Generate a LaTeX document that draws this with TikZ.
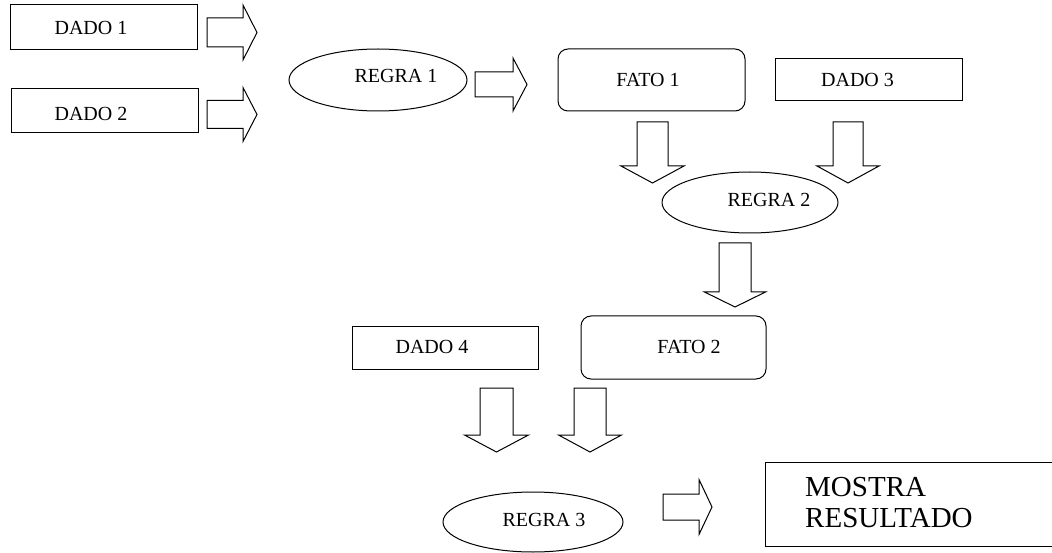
\documentclass[tikz,border=0pt]{standalone}
\usepackage{fontspec}
\setmainfont{Liberation Serif}
\usetikzlibrary{shapes.geometric}

\tikzset{
  outline/.style={draw=black, line width=1pt},
  databox/.style={outline, rectangle, inner sep=0pt},
  factbox/.style={outline, rectangle, rounded corners=10pt, inner sep=0pt},
  rulebox/.style={outline, ellipse, inner sep=0pt},
  lbl/.style={inner sep=0pt, font=\fontsize{20}{24}\selectfont},
  biglbl/.style={inner sep=0pt, align=left, font=\fontsize{29}{31}\selectfont},
  blockarrow/.style={outline, line join=miter, fill=white},
}

% hollow block arrow pointing right:
% name, tail x, axis y, body length, body half-height, head length, head half-height
\newcommand\RightBlock[7]{%
  \draw[blockarrow] ({#2},{#3-#5}) -- ({#2+#4},{#3-#5}) -- ({#2+#4},{#3-#7})
    -- ({#2+#4+#6},{#3}) coordinate (#1) -- ({#2+#4},{#3+#7})
    -- ({#2+#4},{#3+#5}) -- ({#2},{#3+#5}) -- cycle;}

% hollow block arrow pointing down:
% name, axis x, tail y, body length, body half-width, head length, head half-width
\newcommand\DownBlock[7]{%
  \draw[blockarrow] ({#2-#5},{#3}) -- ({#2+#5},{#3}) -- ({#2+#5},{#3+#4})
    -- ({#2+#7},{#3+#4}) -- ({#2},{#3+#4+#6}) coordinate (#1)
    -- ({#2-#7},{#3+#4}) -- ({#2-#5},{#3+#4}) -- cycle;}

\begin{document}
\begin{tikzpicture}[x=1pt, y=-1pt]
  \useasboundingbox (0,0) rectangle (1052,553);
  \clip (0,0) rectangle (1052,553);

  % data boxes
  \node[databox, minimum width=187pt, minimum height=45pt] (dado1) at (103.5,27.5) {};
  \node[databox, minimum width=187pt, minimum height=44pt] (dado2) at (104.5,111) {};
  \node[databox, minimum width=187pt, minimum height=42pt] (dado3) at (868.5,80) {};
  \node[databox, minimum width=186pt, minimum height=43pt] (dado4) at (445,347.5) {};

  % facts
  \node[factbox, minimum width=187pt, minimum height=62pt] (fato1) at (651.5,80) {};
  \node[factbox, minimum width=185pt, minimum height=63pt] (fato2) at (673.5,347.5) {};

  % rules
  \node[rulebox, minimum width=178pt, minimum height=62pt] (regra1) at (378,80) {};
  \node[rulebox, minimum width=176pt, minimum height=61pt] (regra2) at (750,202.5) {};
  \node[rulebox, minimum width=180pt, minimum height=60pt] (regra3) at (533,522) {};

  % result box (runs past the right edge)
  \node[databox, minimum width=305pt, minimum height=84pt] (mostra) at (917.5,504) {};

  % labels
  \node[lbl] (dado1-t) at (91,27.5) {DADO 1};
  \node[lbl] (dado2-t) at (91,114) {DADO 2};
  \node[lbl] (regra1-t) at (396,75.5) {REGRA 1};
  \node[lbl] (fato1-t) at (648,79.5) {FATO 1};
  \node[lbl] (dado3-t) at (857.5,80) {DADO 3};
  \node[lbl] (regra2-t) at (769,200) {REGRA 2};
  \node[lbl] (fato2-t) at (689,347) {FATO 2};
  \node[lbl] (dado4-t) at (432,347) {DADO 4};
  \node[lbl] (regra3-t) at (544,520) {REGRA 3};
  \node[biglbl, anchor=west] (mostra-t) at (805,503) {MOSTRA\\RESULTADO};

  % block arrows
  \RightBlock{a1}{207}{32.5}{36}{14.5}{14}{27.5}
  \RightBlock{a2}{207}{114.5}{36}{14}{14}{27}
  \RightBlock{a3}{475}{84.5}{38}{12.5}{14}{26.5}
  \RightBlock{a4}{663}{507}{36}{13}{13}{27.5}
  \DownBlock{d1}{652.5}{122}{44}{15.5}{17}{31.5}
  \DownBlock{d2}{848}{122}{44}{15}{17}{31}
  \DownBlock{d3}{735}{243}{49}{16}{15}{30.5}
  \DownBlock{d4}{496.5}{388}{47}{16.5}{17}{32}
  \DownBlock{d5}{590}{388}{47}{16}{17}{31.5}
\end{tikzpicture}
\end{document}
